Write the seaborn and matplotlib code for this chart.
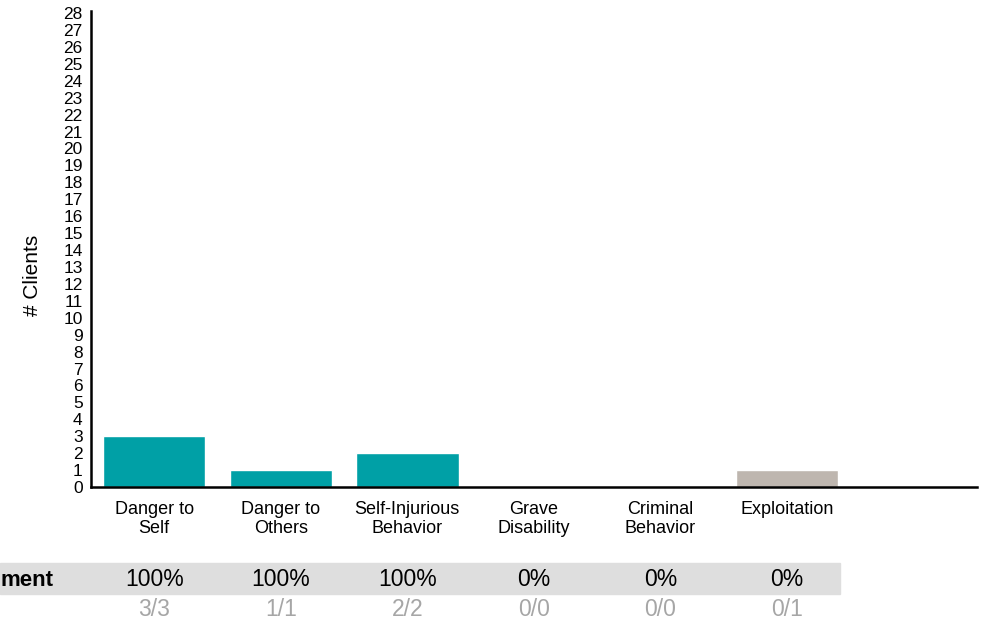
import matplotlib
matplotlib.use("Agg")
import matplotlib.pyplot as plt
import pandas as pd
import seaborn as sns
from matplotlib.patches import Rectangle

categories = [
    "Danger to\nSelf",
    "Danger to\nOthers",
    "Self-Injurious\nBehavior",
    "Grave\nDisability",
    "Criminal\nBehavior",
    "Exploitation",
]
clients = [3, 1, 2, 0, 0, 1]
bar_colors = ["#00A0A6", "#00A0A6", "#00A0A6", "#00A0A6", "#00A0A6", "#BEB6AF"]
pct_labels = ["100%", "100%", "100%", "0%", "0%", "0%"]
frac_labels = ["3/3", "1/1", "2/2", "0/0", "0/0", "0/1"]
row_title = "ment"  # left end of the row title is cut off in the source


def main():
    sns.set_style("white")
    plt.rcParams["font.family"] = ["Liberation Sans", "DejaVu Sans"]
    plt.rcParams["text.color"] = "black"
    plt.rcParams["axes.labelcolor"] = "black"
    plt.rcParams["xtick.color"] = "black"
    plt.rcParams["ytick.color"] = "black"

    df = pd.DataFrame({"category": categories, "clients": clients})

    fig = plt.figure(figsize=(10.02, 6.2), dpi=100)
    ax = fig.add_axes([0.0908, 0.2145, 0.884, 0.7645])
    sns.barplot(
        data=df, x="category", y="clients", hue="category",
        palette=bar_colors, legend=False, width=0.81, saturation=1, ax=ax,
    )
    ax.set_xlim(-0.5, 6.5)
    ax.set_ylim(0, 27.6)
    ax.set_yticks(range(0, 29))
    ax.tick_params(axis="y", labelsize=12.5, length=0, pad=6)
    ax.tick_params(axis="x", labelsize=13, length=0, pad=10)
    ax.set_xlabel("")
    ax.set_ylabel("# Clients", fontsize=15)
    ax.yaxis.set_label_coords(-0.055, 0.447)
    for side in ["top", "right"]:
        ax.spines[side].set_visible(False)
    for side in ["left", "bottom"]:
        ax.spines[side].set_linewidth(1.8)
        ax.spines[side].set_color("black")
        ax.spines[side].set_clip_on(False)
    ax.spines["left"].set_bounds(0, 28.1)

    # summary row below the chart
    fig.patches.append(Rectangle((0, 1 - 594 / 620), 840 / 1002, 31 / 620,
                                 transform=fig.transFigure, color="#DEDEDE", zorder=0))
    fig.text(53 / 1002, 1 - 580 / 620, row_title, ha="right", va="center",
             fontsize=16, fontweight="bold")
    trans = ax.get_xaxis_transform()
    for i, (p, f) in enumerate(zip(pct_labels, frac_labels)):
        x_fig = fig.transFigure.inverted().transform(trans.transform((i, 0)))[0]
        fig.text(x_fig, 1 - 580 / 620, p, ha="center", va="center", fontsize=16.5)
        fig.text(x_fig, 1 - 609 / 620, f, ha="center", va="center",
                 fontsize=16.5, color="#A6A6A6")

    plt.savefig("out.png", dpi=100)
    plt.clf()


if __name__ == "__main__":
    main()
